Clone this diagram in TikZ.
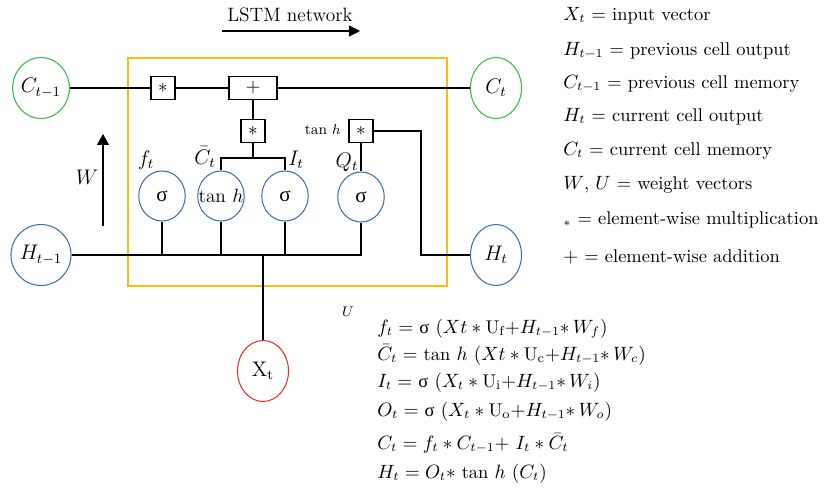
\documentclass[tikz,border=0pt]{standalone}
\usepackage{fontspec}
\newfontfamily\grk{Liberation Serif}
\newcommand{\sig}{{\grk σ}}
\usetikzlibrary{shapes.geometric,arrows.meta}
\definecolor{boxyellow}{RGB}{246,190,20}
\definecolor{memgreen}{RGB}{60,185,75}
\definecolor{outblue}{RGB}{65,110,170}
\definecolor{inred}{RGB}{225,50,40}
\begin{document}
\begin{tikzpicture}[x=0.02cm,y=-0.02cm,
        every node/.style={font=\fontsize{10.5}{12}\selectfont},
        state/.style={ellipse,draw,line width=0.6pt,minimum width=1.02cm,minimum height=1.22cm,inner sep=0pt,font=\fontsize{12}{14}\selectfont},
        gate/.style={ellipse,draw=outblue,line width=0.6pt,minimum width=0.93cm,minimum height=1cm,inner sep=0pt,font=\fontsize{12}{14}\selectfont},
        opbox/.style={rectangle,draw,line width=0.7pt,minimum width=0.48cm,minimum height=0.46cm,inner sep=0pt},
        wire/.style={line width=0.7pt},
        tag/.style={font=\fontsize{12}{14}\selectfont},
        legend/.style={anchor=base west,inner sep=0pt}]
    \useasboundingbox (0,0) rectangle (838,490);
    % cell frame
    \draw[boxyellow,line width=0.6pt] (128,58) rectangle (447,286);
    \node[anchor=center,font=\fontsize{11}{13}\selectfont] (title) at (290,15) {LSTM network};
    \coordinate (ta) at (222,31);
    \coordinate (tb) at (360,31);
    \draw[wire,-{Triangle[length=2.2mm,width=2.2mm]}] (ta) -- (tb);
    % states
    \node[state,draw=memgreen] (cprev) at (41,88) {$C_{t-1}$};
    \node[state,draw=outblue] (hprev) at (41,255) {$H_{t-1}$};
    \node[state,draw=memgreen] (cnext) at (496,88) {$C_t$};
    \node[state,draw=outblue] (hnext) at (496,255) {$H_t$};
    \node[state,draw=inred] (xin) at (263,371) {X$_\mathrm{t}$};
    % operations
    \node[opbox] (mulf) at (163,88) {$\ast$};
    \node[opbox,minimum width=0.96cm] (add) at (253,88) {$+$};
    \node[opbox] (muli) at (253,131) {$\ast$};
    \node[opbox] (mulo) at (361,131) {$\ast$};
    \node[anchor=east,font=\fontsize{8.5}{10}\selectfont] (ltanh) at (347,130) {tan $h$};
    % gates
    \node[gate] (sigf) at (162,196) {\sig};
    \node[gate,font=\fontsize{11}{13}\selectfont] (tanhc) at (221,196) {\makebox[0pt]{tan $h$}};
    \node[gate] (sigi) at (285,196) {\sig};
    \node[gate] (sigo) at (361,197) {\sig};
    \node[tag] (lf) at (146,160) {$f_t$};
    \node[tag] (lc) at (205,157) {$\bar{C}_t$};
    \node[tag] (li) at (296,160) {$I_t$};
    \node[tag] (lq) at (347,162) {$Q_t$};
    \node[font=\fontsize{13}{15}\selectfont] (lw) at (87,177) {$W$};
    \coordinate (wa) at (103,226);
    \coordinate (wb) at (103,134);
    \draw[wire,-{Triangle[length=2.2mm,width=2.4mm]}] (wa) -- (wb);
    \node[font=\fontsize{8}{10}\selectfont] (lu) at (348,312) {$U$};
    % wires
    \draw[wire] (cprev) -- (mulf) -- (add) -- (cnext);
    \draw[wire] (add) -- (muli);
    \coordinate (split) at (253,158);
    \draw[wire] (muli) -- (split);
    \draw[wire] (tanhc.north) |- (split) -| (sigi.north);
    \draw[wire] (mulo) -- (sigo);
    \coordinate (hturn) at (421,255);
    \draw[wire] (mulo) -| (hturn) -- (hnext);
    \coordinate (hend) at (361,255);
    \draw[wire] (hprev) -- (hend) -- (sigo);
    \draw[wire] (sigf) -- (sigf |- hend);
    \draw[wire] (tanhc) -- (tanhc |- hend);
    \draw[wire] (sigi) -- (sigi |- hend);
    \draw[wire] (xin) -- (xin |- hend);
    % legend
    \node[legend] (kx) at (563,20) {$X_t$ = input vector};
    \node[legend] (kh) at (563,55) {$H_{t-1}$ = previous cell output};
    \node[legend] (kc) at (563,88) {$C_{t-1}$ = previous cell memory};
    \node[legend] (khn) at (563,121) {$H_t$ = current cell output};
    \node[legend] (kcn) at (563,155) {$C_t$ = current cell memory};
    \node[legend] (kw) at (563,189) {$W$, $U$ = weight vectors};
    \node[legend] (km) at (563,224) {$_\ast$ = element-wise multiplication};
    \node[legend] (ka) at (563,262) {$+$ = element-wise addition};
    % equations
    \node[legend] (ef) at (377,333) {$f_t =$ \sig\ $(Xt \ast \mathrm{U}_\mathrm{f}{+}H_{t-1}{\ast}\, W_f)$};
    \node[legend] (ec) at (377,360) {$\bar{C}_t =$ tan $h$ $(Xt \ast \mathrm{U}_\mathrm{c}{+}H_{t-1}{\ast}\, W_c)$};
    \node[legend] (ei) at (377,387) {$I_t =$ \sig\ $(X_t \ast \mathrm{U}_\mathrm{i}{+}H_{t-1}{\ast}\, W_i)$};
    \node[legend] (eo) at (377,416) {$O_t =$ \sig\ $(X_t \ast \mathrm{U}_\mathrm{o}{+}H_{t-1}{\ast}\, W_o)$};
    \node[legend] (ecn) at (377,449) {$C_t = f_t \ast C_{t-1}{+}\ I_t \ast \bar{C}_t$};
    \node[legend] (ehn) at (377,478) {$H_t = O_t \ast$ tan $h$ $(C_t)$};
\end{tikzpicture}
\end{document}
